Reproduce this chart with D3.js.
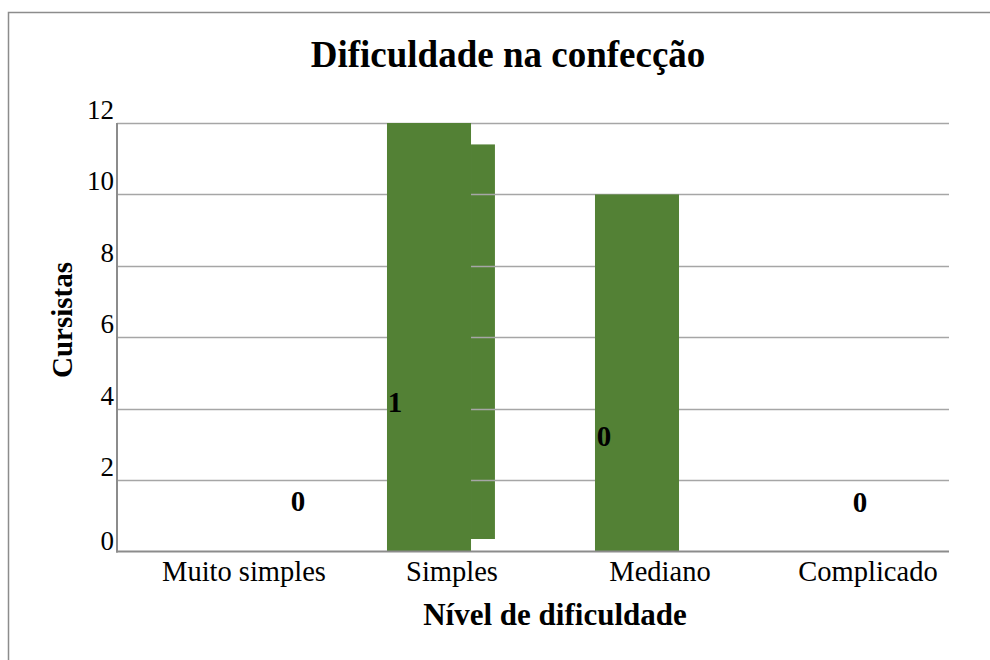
<!DOCTYPE html>
<html>
<head>
<meta charset="utf-8">
<script src="https://cdn.jsdelivr.net/npm/d3@7"></script>
<style>
	html, body { margin: 0; padding: 0; background: #fff; }
	svg { display: block; font-family: "Liberation Serif", "Times New Roman", serif; }
</style>
</head>
<body>
<svg id="chart" width="990" height="660"></svg>
<script>
var categories = [ 'Muito simples', 'Simples', 'Mediano', 'Complicado' ];
var values = [ 0, 12, 10, 0 ];
var valueLabels = [ '0', '1', '0', '0' ];
var yTicks = [ 0, 2, 4, 6, 8, 10, 12 ];
// stray bar fragment next to "Simples" in the original picture (from, to)
var strayCategory = 'Simples';
var strayRange = [ 0.35, 11.4 ];

var green = '#538135';

// where the value labels sit, relative to band centre / bar top
var labelShift = [ [ 77, -41 ], [ -34, 289 ], [ -33, 252 ], [ 15, -40 ] ];

var svg = d3.select( '#chart' );

var x = d3.scaleBand()
	.domain( categories )
	.range( [ 117, 949 ] )
	.padding( 0 );

var y = d3.scaleLinear()
	.domain( [ 0, 12 ] )
	.range( [ 551.5, 123 ] );

var bw = x.bandwidth();
var barW = bw * 0.404;

// outer frame
svg.append( 'rect' )
	.attr( 'x', 8.5 )
	.attr( 'y', 12.5 )
	.attr( 'width', 1000 )
	.attr( 'height', 700 )
	.style( 'fill', 'none' )
	.style( 'stroke', '#8c8c8c' )
	.style( 'stroke-width', 1.5 );

// stray fragment (sits under the gridlines)
svg.append( 'rect' )
	.attr( 'x', x( strayCategory ) + bw / 2 + barW / 2 )
	.attr( 'y', y( strayRange[1] ) )
	.attr( 'width', bw * 0.115 )
	.attr( 'height', y( strayRange[0] ) - y( strayRange[1] ) )
	.style( 'fill', green );

// gridlines
svg.append( 'g' )
	.selectAll( 'line' )
	.data( yTicks.filter( function ( d ) { return d > 0; } ) )
	.enter()
	.append( 'line' )
	.attr( 'x1', 117 )
	.attr( 'x2', 949 )
	.attr( 'y1', function ( d ) { return Math.round( y( d ) ) + 0.5; } )
	.attr( 'y2', function ( d ) { return Math.round( y( d ) ) + 0.5; } )
	.style( 'stroke', '#a6a6a6' )
	.style( 'stroke-width', 1.6 );

// bars
svg.append( 'g' )
	.selectAll( 'rect' )
	.data( values )
	.enter()
	.append( 'rect' )
	.attr( 'x', function ( d, i ) { return x( categories[i] ) + ( bw - barW ) / 2; } )
	.attr( 'y', function ( d ) { return y( d ); } )
	.attr( 'width', barW )
	.attr( 'height', function ( d ) { return y( 0 ) - y( d ); } )
	.style( 'fill', green );

// axis lines
svg.append( 'line' )
	.attr( 'x1', 117 ).attr( 'x2', 117 )
	.attr( 'y1', y( 12 ) ).attr( 'y2', y( 0 ) + 1 )
	.style( 'stroke', '#8c8c8c' )
	.style( 'stroke-width', 2 );

svg.append( 'line' )
	.attr( 'x1', 116 ).attr( 'x2', 949 )
	.attr( 'y1', y( 0 ) ).attr( 'y2', y( 0 ) )
	.style( 'stroke', '#8c8c8c' )
	.style( 'stroke-width', 2 );

// y tick labels
svg.append( 'g' )
	.selectAll( 'text' )
	.data( yTicks )
	.enter()
	.append( 'text' )
	.attr( 'x', 114 )
	.attr( 'y', function ( d ) { return y( d ) - 4 + ( d === 0 ? 2 : 0 ); } )
	.attr( 'text-anchor', 'end' )
	.style( 'font-size', '27px' )
	.text( function ( d ) { return d; } );

// x category labels
svg.append( 'g' )
	.selectAll( 'text' )
	.data( categories )
	.enter()
	.append( 'text' )
	.attr( 'x', function ( d ) { return x( d ) + bw / 2 + 23; } )
	.attr( 'y', 581 )
	.attr( 'text-anchor', 'middle' )
	.style( 'font-size', '28.5px' )
	.text( function ( d ) { return d; } );

// value labels
svg.append( 'g' )
	.selectAll( 'text' )
	.data( values )
	.enter()
	.append( 'text' )
	.attr( 'x', function ( d, i ) { return x( categories[i] ) + bw / 2 + labelShift[i][0]; } )
	.attr( 'y', function ( d, i ) { return y( d ) + labelShift[i][1]; } )
	.attr( 'text-anchor', 'middle' )
	.style( 'font-size', '29px' )
	.style( 'font-weight', 'bold' )
	.text( function ( d, i ) { return valueLabels[i]; } );

// titles
svg.append( 'text' )
	.attr( 'x', 508 )
	.attr( 'y', 67 )
	.attr( 'text-anchor', 'middle' )
	.style( 'font-size', '37px' )
	.style( 'font-weight', 'bold' )
	.text( 'Dificuldade na confecção' );

svg.append( 'text' )
	.attr( 'x', 555 )
	.attr( 'y', 625 )
	.attr( 'text-anchor', 'middle' )
	.style( 'font-size', '31px' )
	.style( 'font-weight', 'bold' )
	.text( 'Nível de dificuldade' );

svg.append( 'text' )
	.attr( 'transform', 'translate(72,320) rotate(-90)' )
	.attr( 'text-anchor', 'middle' )
	.style( 'font-size', '29px' )
	.style( 'font-weight', 'bold' )
	.text( 'Cursistas' );
</script>
</body>
</html>
